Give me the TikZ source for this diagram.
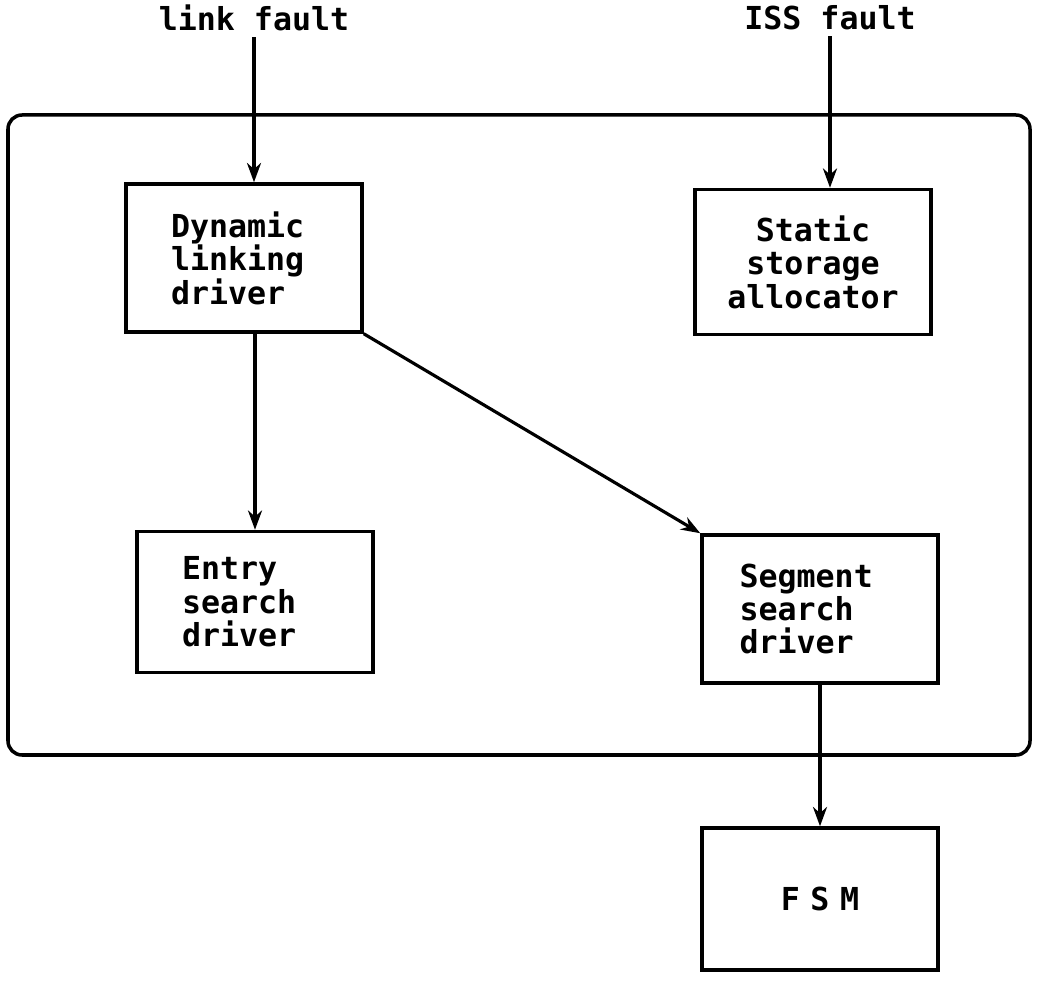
\documentclass[tikz,border=0pt]{standalone}
\usepackage{fontspec}
\setmainfont{DejaVu Sans Mono}
\usetikzlibrary{arrows.meta}

\tikzset{
  unit/.style={draw, line width=2pt, minimum width=4.72cm, inner xsep=0.9cm,
    text width=2.92cm, align=left, font=\bfseries\fontsize{18}{19}\selectfont},
  flow/.style={line width=1.8pt, -{Stealth[length=11pt,width=8pt]}},
  caption/.style={font=\bfseries\fontsize{18}{19}\selectfont},
}

\begin{document}
\begin{tikzpicture}[x=0.02cm,y=-0.02cm]
\useasboundingbox (0,0) rectangle (1038,982);
% enclosing module
\draw [line width=2pt, rounded corners=8pt] (8,115) rectangle (1030,755);

\node [caption] (lf) at (254,18) {link fault};
\node [caption] (iss) at (830,18) {ISS fault};

\node [unit, minimum height=2.96cm] (dyn) at (244,258) {Dynamic\\linking\\driver};
\node [unit, minimum height=2.9cm, inner xsep=0.61cm, text width=3.5cm, align=center] (stat) at (813,262) {Static\\storage\\allocator};
\node [unit, minimum height=2.82cm] (entry) at (255,602) {Entry\\search\\driver};
\node [unit, minimum height=2.96cm, inner xsep=0.75cm, text width=3.22cm] (seg) at (820,609) {Segment\\search\\driver};
\node [unit, minimum height=2.84cm, align=center] (fsm) at (820,899) {F S M};

\draw [flow] (lf.south) -- (lf |- dyn.north);
\draw [flow] (iss.south) -- (iss |- stat.north);
\draw [flow] (entry.north |- dyn.south) -- (entry.north);
\draw [flow] (dyn.south east) -- (seg.north west);
\draw [flow] (seg.south) -- (fsm.north);
\end{tikzpicture}
\end{document}
